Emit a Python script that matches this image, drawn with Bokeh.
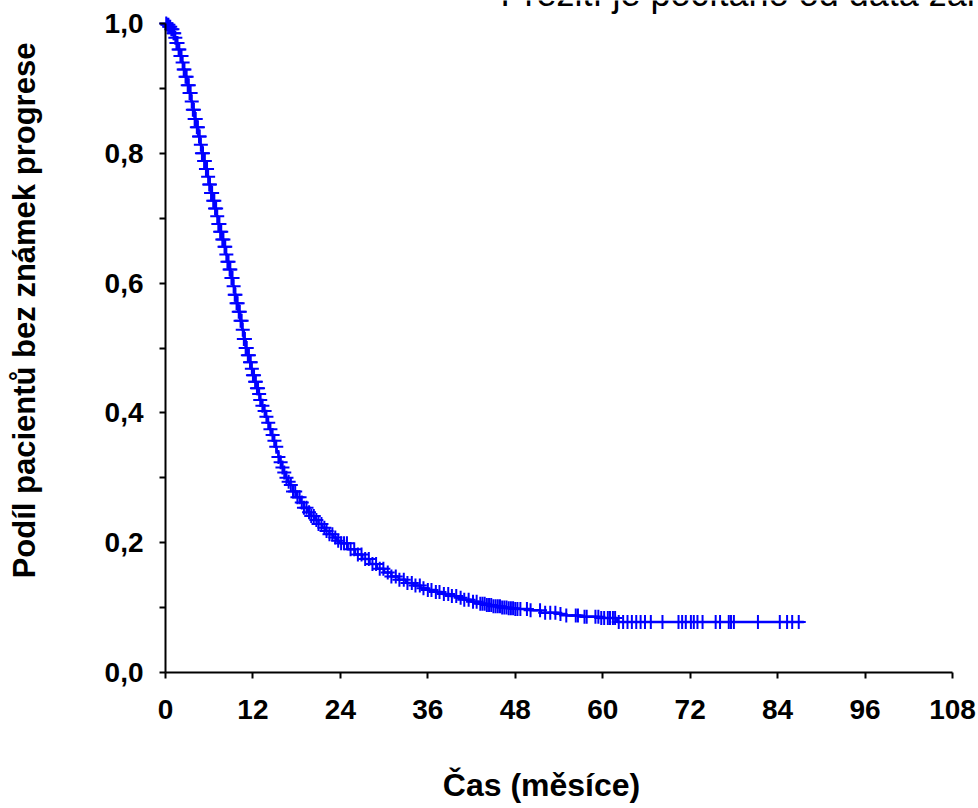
import numpy as np
from bokeh.plotting import figure
from bokeh.models import FixedTicker, CustomJSTickFormatter, Label, Range1d
from bokeh.embed import file_html
from bokeh.resources import INLINE

# Kaplan-Meier curve: (time in months, survival after step)
km_time = [0, 0.25, 0.5, 0.75, 1.0, 1.25, 1.5, 1.75, 2.0, 2.25, 2.5, 2.75, 3.0, 3.25, 3.5, 3.75,
           4.0, 4.25, 4.5, 4.75, 5.0, 5.25, 5.5, 5.75, 6.0, 6.25, 6.5, 6.75, 7.0, 7.25, 7.5, 7.75,
           8.0, 8.25, 8.5, 8.75, 9.0, 9.25, 9.5, 9.75, 10.0, 10.25, 10.5, 10.75, 11.0, 11.25, 11.5, 11.75,
           12.0, 12.25, 12.5, 12.75, 13.0, 13.25, 13.5, 13.75, 14.0, 14.25, 14.5, 14.75, 15.0, 15.25, 15.5, 15.75,
           16.0, 16.25, 16.5, 16.75, 17.0, 17.5, 18.0, 18.5, 19.0, 19.5, 20.0, 20.5, 21.0, 21.5, 22.0, 22.5,
           23.0, 23.5, 24.0, 25, 26, 27, 28, 29, 30, 31, 32, 33, 34, 35, 36, 37, 38, 39, 40, 41, 42, 43,
           44, 45, 46, 47, 48, 50, 51.5, 54, 55, 57, 59.5, 62, 87.6]
km_surv = [1.000, 0.998, 0.995, 0.991, 0.985, 0.978, 0.970, 0.960, 0.950, 0.940, 0.929, 0.918, 0.905, 0.893, 0.880, 0.867,
           0.853, 0.840, 0.826, 0.813, 0.800, 0.788, 0.776, 0.764, 0.752, 0.739, 0.727, 0.715, 0.703, 0.691, 0.679, 0.667,
           0.656, 0.644, 0.633, 0.621, 0.608, 0.595, 0.582, 0.569, 0.556, 0.542, 0.528, 0.514, 0.500, 0.489, 0.478, 0.468,
           0.458, 0.448, 0.438, 0.429, 0.420, 0.411, 0.403, 0.394, 0.385, 0.375, 0.366, 0.357, 0.348, 0.340, 0.332, 0.324,
           0.316, 0.308, 0.300, 0.294, 0.289, 0.279, 0.270, 0.262, 0.254, 0.247, 0.241, 0.235, 0.229, 0.223, 0.218, 0.213,
           0.208, 0.203, 0.199, 0.190, 0.182, 0.175, 0.167, 0.160, 0.154, 0.148, 0.143, 0.138, 0.134, 0.130, 0.127, 0.124,
           0.121, 0.118, 0.115, 0.112, 0.109, 0.106,
           0.104, 0.102, 0.100, 0.099, 0.098, 0.096, 0.092, 0.090, 0.088, 0.086, 0.084, 0.078, 0.078]

# censored observations (months)
censor_time = [0.1, 0.25, 0.4, 0.5, 0.65, 0.8, 0.95, 1.1, 1.2, 1.35, 1.5, 1.65, 1.8, 1.9, 2.05, 2.2, 2.35, 2.5,
               2.6, 2.75, 2.9, 3.05, 3.2, 3.3, 3.45, 3.6, 3.75, 3.9, 4.0, 4.15, 4.3, 4.45, 4.6, 4.7, 4.85, 5.0,
               5.15, 5.3, 5.4, 5.55, 5.7, 5.85, 6.0, 6.1, 6.25, 6.4, 6.55, 6.7, 6.8, 6.95, 7.1, 7.25, 7.4, 7.5,
               7.65, 7.8, 7.95, 8.1, 8.2, 8.35, 8.5, 8.65, 8.8, 8.9, 9.05, 9.2, 9.35, 9.5, 9.6, 9.75, 9.9, 10.05,
               10.2, 10.3, 10.45, 10.6, 10.75, 10.9, 11.0, 11.15, 11.3, 11.45, 11.6, 11.7, 11.85, 12.0, 12.15,
               12.3, 12.4, 12.55, 12.7, 12.85,
               13.0, 13.3, 13.6, 13.85, 14.1, 14.4, 14.7, 14.95, 15.2, 15.5, 15.8, 16.05, 16.3, 16.6, 16.9, 17.2,
               17.5, 17.8, 18.1, 18.4, 18.7, 19.0, 19.35, 19.7, 20.0, 20.35, 20.7, 21.0, 21.4, 21.8, 22.1, 22.5,
               22.9, 23.3, 23.7, 24.1, 24.5, 24.9,
               25.4, 25.9, 26.4, 26.9, 27.4, 27.9, 28.4, 28.9, 29.4, 29.9, 30.5, 31.0, 31.6, 32.1, 32.7, 33.2,
               33.8, 34.3, 34.9, 35.4, 36.0, 36.5, 37.1, 37.6, 38.2, 38.8, 39.3, 39.9, 40.5, 41.0, 41.6, 42.2, 42.7,
               43.2, 43.5, 43.8, 44.1, 44.4, 44.7, 45.0, 45.3, 45.6, 45.9, 46.2, 46.5, 46.8, 47.1, 47.4, 47.7,
               48.0, 48.3, 48.7,
               49.6, 50.1, 51.4, 52.1, 52.8, 53.5, 54.2, 55.0, 56.3, 56.6, 57.5, 57.8, 59.0, 59.4, 59.8, 60.2,
               60.7, 61.0, 61.4, 61.7,
               62.2, 62.8, 63.4, 64.0, 64.6, 65.2, 65.8, 66.6, 68.2, 70.4, 70.9, 71.4, 72.1, 72.5, 73.0, 73.7,
               75.5, 76.1, 77.3, 77.6, 78.0, 81.3, 84.3, 85.3, 86.0, 86.9]

x_ticks = [0, 12, 24, 36, 48, 60, 72, 84, 96, 108]
y_ticks = [0.0, 0.2, 0.4, 0.6, 0.8, 1.0]
y_minor_ticks = [0.1, 0.3, 0.5, 0.7, 0.9]

title_text = "Přežití je počítáno od data zahájení léčby"
x_title = "Čas (měsíce)"
y_title = "Podíl pacientů bez známek progrese"

# survival at each censoring time (KM step lookup)
kt = np.array(km_time)
ks = np.array(km_surv)
idx = np.searchsorted(kt, np.array(censor_time), side="right") - 1
censor_surv = ks[idx]

BLUE = "#0000FF"
FONT = "Liberation Sans"

W, H = 978, 808
# pixel geometry of the plotting area (x: 0 -> 165 px, 108 -> 952 px; y: 0 -> 672 px, 1 -> 23 px)
X0_PX, X1_PX, Y0_PX, Y1_PX = 165, 952, 672, 23
xs = (X1_PX - X0_PX) / 108.0
ys = (Y0_PX - Y1_PX) / 1.0
x_range = Range1d(-X0_PX / xs, (W - X0_PX) / xs)
y_range = Range1d(-(H - Y0_PX) / ys, Y0_PX / ys)

p = figure(width=W, height=H, output_backend="svg", toolbar_location=None,
           x_range=x_range, y_range=y_range,
           min_border_left=0, min_border_right=0, min_border_top=0, min_border_bottom=0)
p.outline_line_color = None
p.grid.visible = False
p.background_fill_color = "white"
p.border_fill_color = "white"

p.step(km_time, km_surv, mode="after", line_color=BLUE, line_width=2.5)
p.scatter(censor_time, censor_surv, marker="cross", size=14, line_color=BLUE, line_width=2)

# axes (drawn at data 0 inside the canvas)
xa = p.xaxis[0]
xa.fixed_location = 0
xa.bounds = (0, 108)
xa.ticker = FixedTicker(ticks=x_ticks)
xa.axis_line_width = 2
xa.major_tick_line_width = 2
xa.major_tick_out = 6
xa.major_tick_in = 0
xa.minor_tick_line_color = None
xa.major_label_text_font = FONT
xa.major_label_text_font_style = "bold"
xa.major_label_text_font_size = "28px"
xa.major_label_text_color = "black"
xa.major_label_standoff = 21

ya = p.yaxis[0]
ya.fixed_location = 0
ya.bounds = (0, 1)
ya.ticker = FixedTicker(ticks=y_ticks, minor_ticks=y_minor_ticks)
ya.axis_line_width = 2
ya.major_tick_line_width = 2
ya.minor_tick_line_width = 2
ya.major_tick_out = 6
ya.major_tick_in = 0
ya.minor_tick_out = 6
ya.minor_tick_in = 0
ya.minor_tick_line_color = "black"
ya.formatter = CustomJSTickFormatter(code="return tick.toFixed(1).replace('.', ',');")
ya.major_label_text_font = FONT
ya.major_label_text_font_style = "bold"
ya.major_label_text_font_size = "28px"
ya.major_label_text_color = "black"
ya.major_label_standoff = 16


def px_x(px):
    return (px - X0_PX) / xs


def px_y(py):
    return (Y0_PX - py) / ys


# axis titles and the header text
p.add_layout(Label(x=px_x(24), y=px_y(310), text=y_title, angle=np.pi / 2,
                   text_align="center", text_baseline="alphabetic",
                   text_font=FONT, text_font_style="bold", text_font_size="31px", text_color="black"))
p.add_layout(Label(x=px_x(541), y=px_y(784), text=x_title,
                   text_align="center", text_baseline="alphabetic",
                   text_font=FONT, text_font_style="bold", text_font_size="32px", text_color="black"))
p.add_layout(Label(x=px_x(500), y=px_y(-7), text=title_text,
                   text_align="left", text_baseline="alphabetic",
                   text_font=FONT, text_font_size="36px", text_color="black"))

open("out.html", "w").write(file_html(p, INLINE))
